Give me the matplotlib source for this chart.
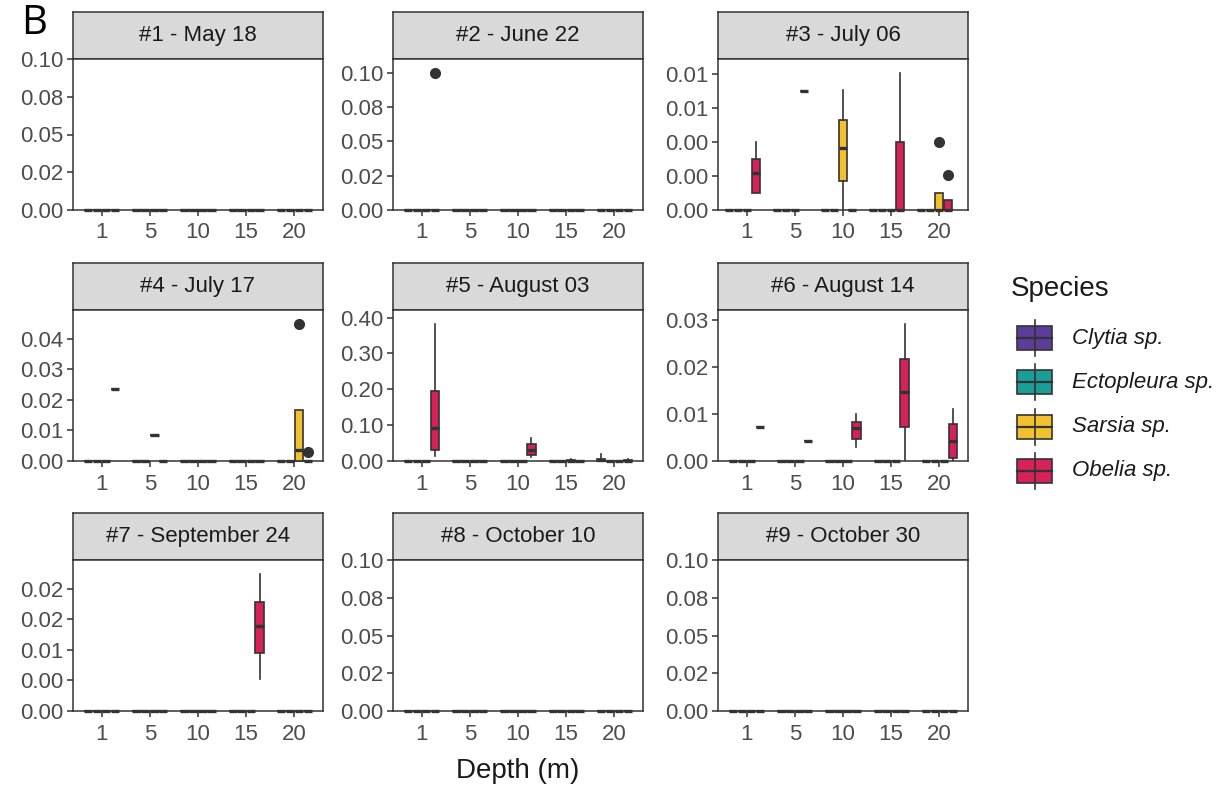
import matplotlib
matplotlib.use("Agg")
import matplotlib.pyplot as plt
from matplotlib.patches import Rectangle

plt.rcParams['font.family'] = ['Liberation Sans', 'DejaVu Sans']

# --- data -------------------------------------------------------------
species = ['Clytia sp.', 'Ectopleura sp.', 'Sarsia sp.', 'Obelia sp.']
colors = ['#5C3D99', '#1A9E97', '#F3C130', '#D62159']
depths = ['1', '5', '10', '15', '20']

titles = ['#1 - May 18', '#2 - June 22', '#3 - July 06',
          '#4 - July 17', '#5 - August 03', '#6 - August 14',
          '#7 - September 24', '#8 - October 10', '#9 - October 30']

# non-zero boxes: (depth, species, whislo, q1, med, q3, whishi, fliers)
# every other depth/species combination is all zeros
boxes_1 = []
boxes_2 = [('1', 'Obelia sp.', 0, 0, 0, 0, 0, [0.10])]
boxes_3 = [('1', 'Obelia sp.', 0.0010, 0.0010, 0.00216, 0.0030, 0.0040, []),
           ('5', 'Obelia sp.', 0.0070, 0.0070, 0.0070, 0.0070, 0.0070, []),
           ('10', 'Sarsia sp.', 0, 0.00168, 0.00362, 0.0053, 0.00703, []),
           ('15', 'Obelia sp.', 0, 0, 0, 0.0040, 0.00805, []),
           ('20', 'Sarsia sp.', 0, 0, 0, 0.00102, 0.00102, [0.0040]),
           ('20', 'Obelia sp.', 0, 0, 0, 0.00058, 0.00058, [0.00208])]
boxes_4 = [('1', 'Obelia sp.', 0.0236, 0.0236, 0.0236, 0.0236, 0.0236, []),
           ('5', 'Sarsia sp.', 0.0085, 0.0085, 0.0085, 0.0085, 0.0085, []),
           ('20', 'Sarsia sp.', 0, 0, 0.0035, 0.0167, 0.0167, [0.045]),
           ('20', 'Obelia sp.', 0, 0, 0, 0, 0, [0.003])]
boxes_5 = [('1', 'Obelia sp.', 0.014, 0.030, 0.091, 0.196, 0.383, []),
           ('10', 'Obelia sp.', 0.011, 0.017, 0.032, 0.048, 0.065, []),
           ('15', 'Sarsia sp.', 0, 0, 0, 0.004, 0.006, []),
           ('20', 'Clytia sp.', 0, 0, 0.002, 0.006, 0.020, []),
           ('20', 'Obelia sp.', 0, 0, 0, 0.002, 0.005, [])]
boxes_6 = [('1', 'Obelia sp.', 0.0072, 0.0072, 0.0072, 0.0072, 0.0072, []),
           ('5', 'Obelia sp.', 0.0042, 0.0042, 0.0042, 0.0042, 0.0042, []),
           ('10', 'Obelia sp.', 0.0030, 0.0047, 0.0070, 0.0083, 0.0100, []),
           ('15', 'Obelia sp.', 0, 0.0072, 0.0148, 0.0217, 0.0293, []),
           ('20', 'Obelia sp.', 0, 0.0006, 0.0042, 0.0079, 0.0112, [])]
boxes_7 = [('15', 'Obelia sp.', 0.00523, 0.00942, 0.01394, 0.01785, 0.02242, [])]
boxes_8 = []
boxes_9 = []
panel_boxes = [boxes_1, boxes_2, boxes_3, boxes_4, boxes_5,
               boxes_6, boxes_7, boxes_8, boxes_9]

ticks_a = [0, 0.025, 0.05, 0.075, 0.10]
labels_a = ['0.00', '0.02', '0.05', '0.08', '0.10']
panel_ticks = [ticks_a, ticks_a,
               [0, 0.002, 0.004, 0.006, 0.008],
               [0, 0.01, 0.02, 0.03, 0.04],
               [0, 0.1, 0.2, 0.3, 0.4],
               [0, 0.01, 0.02, 0.03],
               [0, 0.005, 0.01, 0.015, 0.02],
               ticks_a, ticks_a]
panel_labels = [labels_a, labels_a,
                ['0.00', '0.00', '0.00', '0.01', '0.01'],
                ['0.00', '0.01', '0.02', '0.03', '0.04'],
                ['0.00', '0.10', '0.20', '0.30', '0.40'],
                ['0.00', '0.01', '0.02', '0.03'],
                ['0.00', '0.00', '0.01', '0.02', '0.02'],
                labels_a, labels_a]

# --- layout (pixels) --------------------------------------------------
W, H = 1230, 788
col_x = [73, 393, 718]
row_top = [12, 263, 513]
panel_w, strip_h, panel_h = 250, 47, 151
dodge = [-0.28, -0.094, 0.094, 0.28]
# the July 06 facet dodges its groups slightly further left
panel_shift = [0, 0, -0.09, 0, 0, 0, 0, 0, 0]
box_w = 0.17
edge = '#333333'


def rect(x0, y0, w, h):
    return [x0 / W, 1 - (y0 + h) / H, w / W, h / H]


fig = plt.figure(figsize=(W / 100, H / 100), dpi=100)

for p in range(9):
    r, c = divmod(p, 3)
    x0, top = col_x[c], row_top[r]

    sax = fig.add_axes(rect(x0, top, panel_w, strip_h))
    sax.set_facecolor('#D9D9D9')
    sax.set_xticks([])
    sax.set_yticks([])
    for s in sax.spines.values():
        s.set_color(edge)
        s.set_linewidth(1.1)
    sax.text(0.5, 0.5, titles[p], ha='center', va='center',
             fontsize=16, color='#1A1A1A', transform=sax.transAxes)

    ax = fig.add_axes(rect(x0, top + strip_h, panel_w, panel_h))
    given = {(b[0], b[1]): b for b in panel_boxes[p]}

    ymax = 0
    for j, sp in enumerate(species):
        stats, pos = [], []
        for i, d in enumerate(depths):
            b = given.get((d, sp), (d, sp, 0, 0, 0, 0, 0, []))
            stats.append(dict(whislo=b[2], q1=b[3], med=b[4], q3=b[5],
                              whishi=b[6], fliers=b[7]))
            pos.append(i + dodge[j] + panel_shift[p])
            ymax = max([ymax, b[6]] + b[7])
        parts = ax.bxp(stats, positions=pos, widths=box_w, patch_artist=True,
                       showcaps=False, manage_ticks=False, zorder=3,
                       boxprops=dict(facecolor=colors[j], edgecolor=edge,
                                     linewidth=1.2),
                       whiskerprops=dict(color=edge, linewidth=1.2),
                       medianprops=dict(color=edge, linewidth=2.4),
                       flierprops=dict(marker='o', markerfacecolor=edge,
                                       markeredgecolor=edge, markersize=7))
        # collapsed boxes sit on the axis line; keep them fully visible
        for art in parts['boxes'] + parts['medians']:
            art.set_clip_on(False)

    ax.set_xlim(-0.6, len(depths) - 0.4)
    ax.set_ylim(0, ymax * 1.1 if ymax > 0 else 0.1)
    ax.set_xticks(range(len(depths)))
    ax.set_xticklabels(depths)
    ax.set_yticks(panel_ticks[p])
    ax.set_yticklabels(panel_labels[p])
    ax.tick_params(axis='both', labelsize=16, labelcolor='#4D4D4D',
                   color=edge, length=4, width=1.1, pad=3)
    ax.tick_params(axis='x', pad=5)
    for s in ax.spines.values():
        s.set_color(edge)
        s.set_linewidth(1.1)

fig.text(518 / W, 1 - 771 / H, 'Depth (m)', ha='center', va='center',
         fontsize=20, color='#1A1A1A')
fig.text(21 / W, 1 - 3 / H, 'B', ha='left', va='top', fontsize=29,
         family='Open Sans', color='black')

# --- legend -----------------------------------------------------------
lax = fig.add_axes([0, 0, 1, 1], zorder=-1)
lax.set_xlim(0, W)
lax.set_ylim(H, 0)
lax.axis('off')
lax.text(1011, 289, 'Species', ha='left', va='center', fontsize=20,
         color='#1A1A1A')
for k, (sp, col) in enumerate(zip(species, colors)):
    yc = 338 + 44.3 * k
    lax.plot([1034.5, 1034.5], [yc - 18, yc + 18], color=edge, lw=1.2)
    lax.add_patch(Rectangle((1017, yc - 12), 35, 24, facecolor=col,
                            edgecolor=edge, lw=1.2))
    lax.plot([1017, 1052], [yc, yc], color=edge, lw=1.6)
    lax.text(1072, yc, sp, ha='left', va='center', fontsize=16,
             style='italic', color='#1A1A1A')

fig.savefig('out.png', dpi=100)
